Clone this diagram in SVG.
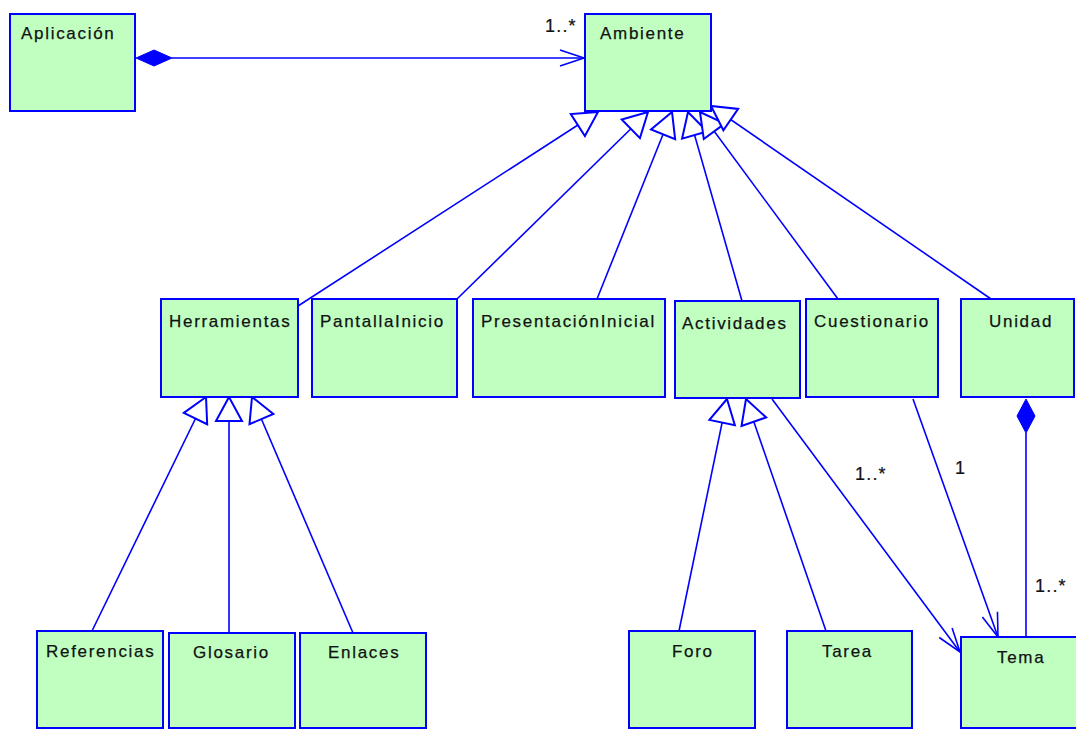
<svg xmlns="http://www.w3.org/2000/svg" width="1076" height="730" viewBox="0 0 1076 730">
  <style>
    .box { fill: #C0FFC0; stroke: #0000FF; stroke-width: 2; }
    .name { font-family: "Liberation Sans", Arial, sans-serif; font-size: 17px; letter-spacing: 1.7px; fill: #111; stroke: #111; stroke-width: 0.25; }
    .mult { font-family: "Liberation Sans", Arial, sans-serif; font-size: 18px; letter-spacing: 1.2px; fill: #111; stroke: #111; stroke-width: 0.2; }
    .edge { fill: none; stroke: #0000FF; stroke-width: 1.6; }
    .diamond { fill: #0000FF; stroke: #0000FF; stroke-width: 1; }
  </style>
  <defs>
    <!-- hollow triangle for generalization -->
    <marker id="gen" markerUnits="userSpaceOnUse" viewBox="-27 -15 29 30" markerWidth="29" markerHeight="30" refX="0" refY="0" orient="auto" overflow="visible">
      <path d="M0,0 L-24,-13 L-24,13 Z" fill="#FFFFFF" stroke="#0000FF" stroke-width="2"/>
    </marker>
    <!-- open arrow for navigable association -->
    <marker id="open" markerUnits="userSpaceOnUse" viewBox="-27 -10 29 20" markerWidth="29" markerHeight="20" refX="0" refY="0" orient="auto" overflow="visible">
      <path d="M-24,-8 L0,0 L-24,8" fill="none" stroke="#0000FF" stroke-width="1.6"/>
    </marker>
  </defs>

  <g id="connectors">
    <!-- Aplicacion composes Ambiente -->
    <polygon class="diamond" points="136,58 154,50 172,58 154,66"/>
    <line class="edge" x1="172" y1="58" x2="584" y2="58" marker-end="url(#open)"/>

    <!-- subclasses of Ambiente -->
    <line class="edge" x1="298" y1="306" x2="598" y2="112" marker-end="url(#gen)"/>
    <line class="edge" x1="457" y1="299" x2="648" y2="112" marker-end="url(#gen)"/>
    <line class="edge" x1="597" y1="299" x2="672" y2="112" marker-end="url(#gen)"/>
    <line class="edge" x1="742" y1="301" x2="688" y2="112" marker-end="url(#gen)"/>
    <line class="edge" x1="838" y1="299" x2="700" y2="112" marker-end="url(#gen)"/>
    <line class="edge" x1="991" y1="299" x2="711" y2="106" marker-end="url(#gen)"/>

    <!-- subclasses of Herramientas -->
    <line class="edge" x1="92" y1="631" x2="206" y2="397" marker-end="url(#gen)"/>
    <line class="edge" x1="229" y1="633" x2="229" y2="397" marker-end="url(#gen)"/>
    <line class="edge" x1="353" y1="633" x2="252" y2="397" marker-end="url(#gen)"/>

    <!-- subclasses of Actividades -->
    <line class="edge" x1="679" y1="631" x2="727" y2="399" marker-end="url(#gen)"/>
    <line class="edge" x1="826" y1="631" x2="746" y2="399" marker-end="url(#gen)"/>

    <!-- associations to Tema -->
    <line class="edge" x1="772" y1="399" x2="960" y2="652" marker-end="url(#open)"/>
    <line class="edge" x1="913" y1="399" x2="998" y2="637" marker-end="url(#open)"/>

    <!-- Unidad composes Tema -->
    <polygon class="diamond" points="1026,399 1035,416 1026,433 1017,416"/>
    <line class="edge" x1="1026" y1="433" x2="1026" y2="637"/>

    <!-- multiplicities -->
    <text class="mult" x="545" y="32">1..*</text>
    <text class="mult" x="855" y="480">1..*</text>
    <text class="mult" x="955" y="474">1</text>
    <text class="mult" x="1035" y="592">1..*</text>
  </g>

  <g id="aplicacion">
    <rect class="box" x="10" y="14" width="125" height="97"/>
    <text class="name" x="21" y="39">Aplicación</text>
  </g>
  <g id="ambiente">
    <rect class="box" x="585" y="14" width="126" height="97"/>
    <text class="name" x="600" y="39">Ambiente</text>
  </g>

  <g id="herramientas">
    <rect class="box" x="161" y="299" width="137" height="98"/>
    <text class="name" x="169" y="327">Herramientas</text>
  </g>
  <g id="pantallainicio">
    <rect class="box" x="312" y="299" width="145" height="98"/>
    <text class="name" x="320" y="327">PantallaInicio</text>
  </g>
  <g id="presentacioninicial">
    <rect class="box" x="473" y="299" width="192" height="98"/>
    <text class="name" x="481" y="327">PresentaciónInicial</text>
  </g>
  <g id="actividades">
    <rect class="box" x="675" y="301" width="125" height="97"/>
    <text class="name" x="682" y="329">Actividades</text>
  </g>
  <g id="cuestionario">
    <rect class="box" x="806" y="299" width="132" height="98"/>
    <text class="name" x="814" y="327">Cuestionario</text>
  </g>
  <g id="unidad">
    <rect class="box" x="961" y="299" width="113" height="98"/>
    <text class="name" x="989" y="327">Unidad</text>
  </g>

  <g id="referencias">
    <rect class="box" x="37" y="631" width="126" height="97"/>
    <text class="name" x="46" y="657">Referencias</text>
  </g>
  <g id="glosario">
    <rect class="box" x="169" y="633" width="126" height="95"/>
    <text class="name" x="193" y="658">Glosario</text>
  </g>
  <g id="enlaces">
    <rect class="box" x="300" y="633" width="126" height="95"/>
    <text class="name" x="328" y="658">Enlaces</text>
  </g>
  <g id="foro">
    <rect class="box" x="629" y="631" width="126" height="97"/>
    <text class="name" x="672" y="657">Foro</text>
  </g>
  <g id="tarea">
    <rect class="box" x="787" y="631" width="125" height="97"/>
    <text class="name" x="822" y="657">Tarea</text>
  </g>
  <g id="tema">
    <rect class="box" x="961" y="637" width="130" height="91"/>
    <text class="name" x="997" y="663">Tema</text>
  </g>
</svg>
